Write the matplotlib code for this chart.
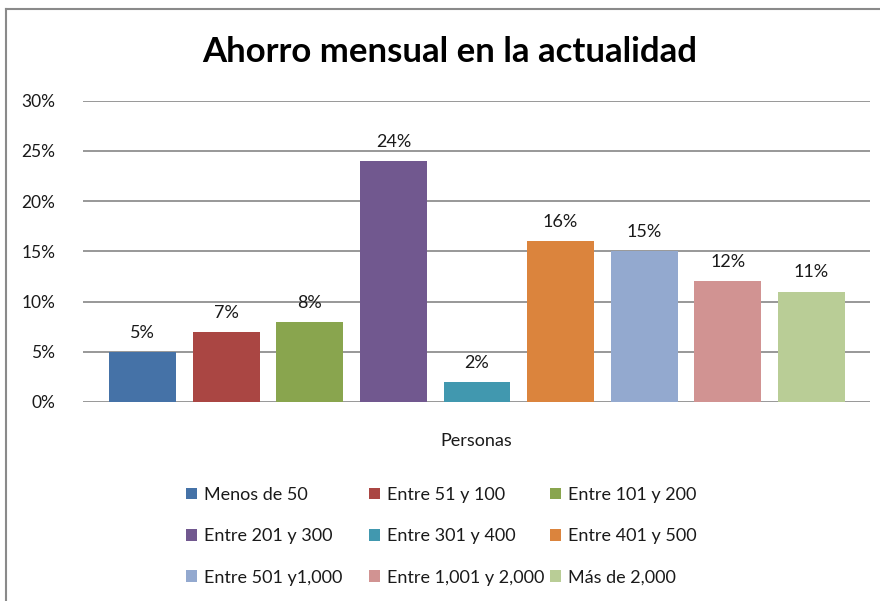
import matplotlib
matplotlib.use("Agg")
import matplotlib.pyplot as plt
from matplotlib.patches import Patch
from matplotlib.lines import Line2D
from matplotlib.ticker import FuncFormatter

categories = ["Menos de 50", "Entre 51 y 100", "Entre 101 y 200",
              "Entre 201 y 300", "Entre 301 y 400", "Entre 401 y 500",
              "Entre 501 y1,000", "Entre 1,001 y 2,000", "Más de 2,000"]
values = [0.05, 0.07, 0.08, 0.24, 0.02, 0.16, 0.15, 0.12, 0.11]
labels = ["5%", "7%", "8%", "24%", "2%", "16%", "15%", "12%", "11%"]
colors = ["#4572A7", "#AA4643", "#89A54E", "#71588F", "#4198AF",
          "#DB843D", "#93A9CF", "#D19392", "#B9CD96"]
yticks = [0, 0.05, 0.10, 0.15, 0.20, 0.25, 0.30]
title = "Ahorro mensual en la actualidad"
xlabel = "Personas"

plt.rcParams['font.family'] = ['Lato', 'DejaVu Sans']

W, H = 880, 601
fig = plt.figure(figsize=(W / 100, H / 100), dpi=100)
ax = fig.add_axes([83 / W, 1 - 402 / H, (870 - 83) / W, (402 - 100.7) / H])

x = list(range(len(values)))
bars = ax.bar(x, values, width=0.80, color=colors, zorder=3)
for xi, v, lab in zip(x, values, labels):
    ax.annotate(lab, (xi, v), xytext=(0, 8), textcoords="offset points",
                ha="center", va="bottom", fontsize=13, color="#1a1a1a")

ax.set_xlim(-0.7115, 8.70)
ax.set_ylim(0, 0.30)
ax.set_yticks(yticks)
ax.yaxis.set_major_formatter(FuncFormatter(lambda v, p: f"{round(v * 100):d}%"))
ax.tick_params(axis="y", length=0, pad=20, labelsize=12.5, labelcolor="#1a1a1a")
ax.set_xticks([])
ax.grid(axis="y", color="#868686", linewidth=1.2, zorder=0)
for s in ax.spines.values():
    s.set_visible(False)
ax.set_xlabel(xlabel, fontsize=13, color="#1a1a1a", labelpad=22)

fig.text(450 / W, 1 - 52 / H, title, ha="center", va="center",
         fontsize=25, fontweight="bold", color="black")

# outer frame (left and top edges)
fig.add_artist(Line2D([6 / W, 6 / W], [0, 1 - 9 / H], transform=fig.transFigure,
                      color="#8a8a8a", linewidth=1.5))
fig.add_artist(Line2D([6 / W, 1], [1 - 9 / H, 1 - 9 / H], transform=fig.transFigure,
                      color="#8a8a8a", linewidth=1.5))

# legend: three columns
col_x = [186, 369, 550]
for c in range(3):
    idx = [r * 3 + c for r in range(3)]
    handles = [Patch(facecolor=colors[i], edgecolor="none") for i in idx]
    lg = fig.legend(handles, [categories[i] for i in idx],
                    loc="upper left", bbox_to_anchor=(col_x[c] / W, 1 - 487 / H),
                    frameon=False, fontsize=13, handlelength=0.6,
                    handleheight=0.6, handletextpad=0.4, labelspacing=1.4,
                    borderpad=0, borderaxespad=0)
    for t in lg.get_texts():
        t.set_color("#1a1a1a")

fig.savefig("out.png", dpi=100)
